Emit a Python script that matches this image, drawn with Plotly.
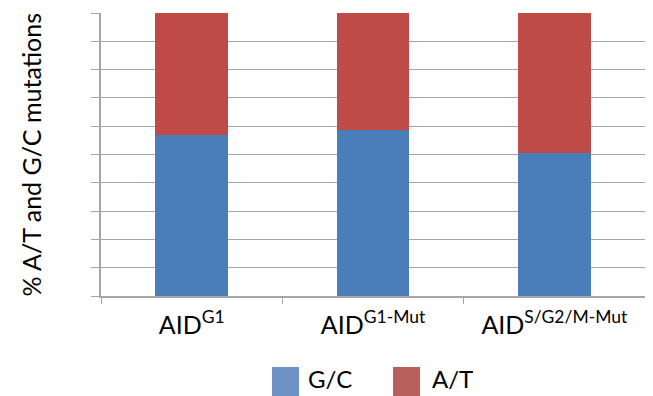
import plotly.graph_objects as go

categories = ["AID<sup>G1</sup>", "AID<sup>G1-Mut</sup>", "AID<sup>S/G2/M-Mut</sup>"]
series_names = ["G/C", "A/T"]
gc_values = [57, 58.5, 50.5]
at_values = [43, 41.5, 49.5]
colors = ["#4A7EBB", "#BE4B48"]
legend_colors = ["#6E92C6", "#B65F5B"]

FONT = "Lato"

fig = go.Figure()
fig.add_trace(go.Bar(x=categories, y=gc_values, name=series_names[0],
                     marker=dict(color=colors[0], line=dict(width=0)), showlegend=False))
fig.add_trace(go.Bar(x=categories, y=at_values, name=series_names[1],
                     marker=dict(color=colors[1], line=dict(width=0)), showlegend=False))

# page has an 8px body margin; figure coordinates are offset by it
OFF = 8
W, H = 653 - OFF, 396 - OFF
L, R, T, B = 101 - OFF, 8, 13 - OFF, 100
pw = W - L - R
ph = H - T - B

fig.update_layout(
    width=W, height=H,
    barmode="stack", bargap=0.6,
    margin=dict(l=L, r=R, t=T, b=B),
    plot_bgcolor="white", paper_bgcolor="white",
    font=dict(family=FONT, size=25, color="black"),
    xaxis=dict(showline=True, linecolor="#A6A6A6", linewidth=1.5,
               ticks="outside", tickson="boundaries", ticklen=6, tickcolor="#A6A6A6",
               ticklabelstandoff=6,
               tickfont=dict(size=25, family=FONT), showgrid=False),
    yaxis=dict(range=[0, 100], dtick=10, showticklabels=False,
               showline=True, linecolor="#A6A6A6", linewidth=1.5,
               ticks="outside", ticklen=8, tickcolor="#A6A6A6",
               showgrid=True, gridcolor="#A6A6A6", gridwidth=1.2, zeroline=False),
)

# y-axis title (page x ~30)
fig.add_annotation(text="% A/T and G/C mutations", xref="paper", yref="paper",
                   x=(30 - 101) / pw, y=0.5, xanchor="center", yanchor="middle",
                   textangle=-90, showarrow=False, font=dict(size=25, family=FONT))

# manual legend (page coordinates)
sw_x = [272, 393]
tx_x = [306, 430]
plot_bottom_page = 296
for i, name in enumerate(series_names):
    x0 = (sw_x[i] - 101) / pw
    x1 = (sw_x[i] + 27 - 101) / pw
    y0 = (plot_bottom_page - 396) / ph
    y1 = (plot_bottom_page - 367) / ph
    fig.add_shape(type="rect", xref="paper", yref="paper", x0=x0, x1=x1, y0=y0, y1=y1,
                  fillcolor=legend_colors[i], line=dict(width=0))
    fig.add_annotation(text=name, xref="paper", yref="paper",
                       x=(tx_x[i] - 101) / pw, y=(plot_bottom_page - 379) / ph,
                       xanchor="left", yanchor="middle", showarrow=False,
                       font=dict(size=24, family=FONT))

fig.write_html("out.html")
